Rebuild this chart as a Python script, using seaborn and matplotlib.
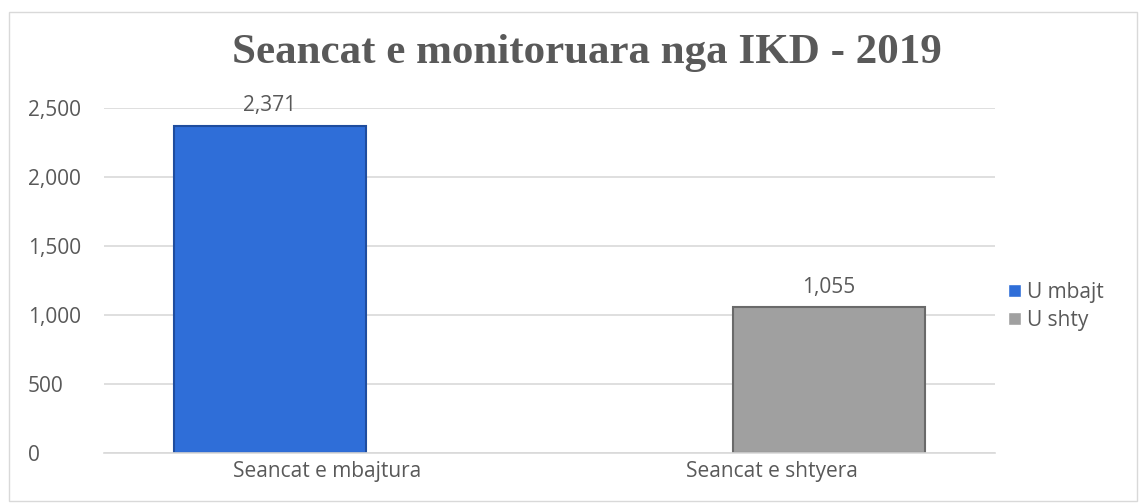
import matplotlib
matplotlib.use("Agg")
import matplotlib.pyplot as plt
import seaborn as sns
import pandas as pd
from matplotlib.patches import Rectangle

# Chart data (two series, each only filled in its own category)
categories = ["Seancat e mbajtura", "Seancat e shtyera"]
series = ["U mbajt", "U shty"]
bar_cats = ["Seancat e mbajtura", "Seancat e shtyera"]
bar_series = ["U mbajt", "U shty"]
bar_values = [2371, 1055]
colors = ["#2F6ED8", "#A0A0A0"]
edge_colors = ["#1F4D9E", "#6A6A6A"]
yticks = [0, 500, 1000, 1500, 2000, 2500]

df = pd.DataFrame({"cat": bar_cats, "series": bar_series, "val": bar_values})

sns.set_theme(style="white")
plt.rcParams["font.family"] = ["Open Sans", "DejaVu Sans"]
text_col = "#595959"

W, H = 1147, 503
fig = plt.figure(figsize=(W / 100, H / 100), dpi=100)
ax = fig.add_axes([104 / W, 1 - 453 / H, (995 - 104) / W, (453 - 108) / H])

sns.barplot(data=df, x="cat", y="val", hue="series", order=categories,
            hue_order=series, palette=colors, saturation=1, dodge=True,
            width=0.51, ax=ax)

# Excel-style overlap: widen bars around their dodge centres
bar_w = 0.43
for cont, ec in zip(ax.containers, edge_colors):
    for patch in cont:
        cx = patch.get_x() + patch.get_width() / 2
        patch.set_width(bar_w)
        patch.set_x(cx - bar_w / 2)
        patch.set_edgecolor(ec)
        patch.set_linewidth(1.5)

ax.set_xlim(-0.5, 1.5)
ax.set_ylim(0, 2500)
ax.set_yticks(yticks)
ax.set_yticklabels([f"{v:,}" for v in yticks], fontsize=15, color=text_col)
ax.tick_params(axis="x", labelsize=15, colors=text_col, length=0, pad=6)
ax.tick_params(axis="y", length=0, pad=55)
for lbl in ax.get_yticklabels():
    lbl.set_horizontalalignment("left")
ax.yaxis.grid(True, color="#D9D9D9", linewidth=1.2)
ax.set_axisbelow(True)
ax.set_xlabel("")
ax.set_ylabel("")
for side in ["top", "right", "left"]:
    ax.spines[side].set_visible(False)
ax.spines["bottom"].set_color("#D9D9D9")
ax.spines["bottom"].set_linewidth(1.2)

for cont in ax.containers:
    ax.bar_label(cont, labels=[f"{v:,.0f}" for v in cont.datavalues],
                 padding=7, fontsize=15, color=text_col)

ax.legend(loc="center left", bbox_to_anchor=(1.003, 0.425), frameon=False,
          fontsize=15, handlelength=0.6, handleheight=0.6, handletextpad=0.3,
          labelspacing=0.35, labelcolor=text_col, borderpad=0)

fig.text(587 / W, 1 - 63 / H, "Seancat e monitoruara nga IKD - 2019",
         ha="center", va="baseline", fontsize=31, fontweight="bold",
         family="Liberation Serif", color=text_col)

fig.patches.append(Rectangle((9 / W, 1 - 501 / H), 1128 / W, 489 / H,
                             transform=fig.transFigure, fill=False,
                             edgecolor="#D9D9D9", linewidth=1))

fig.savefig("out.png", dpi=100)
